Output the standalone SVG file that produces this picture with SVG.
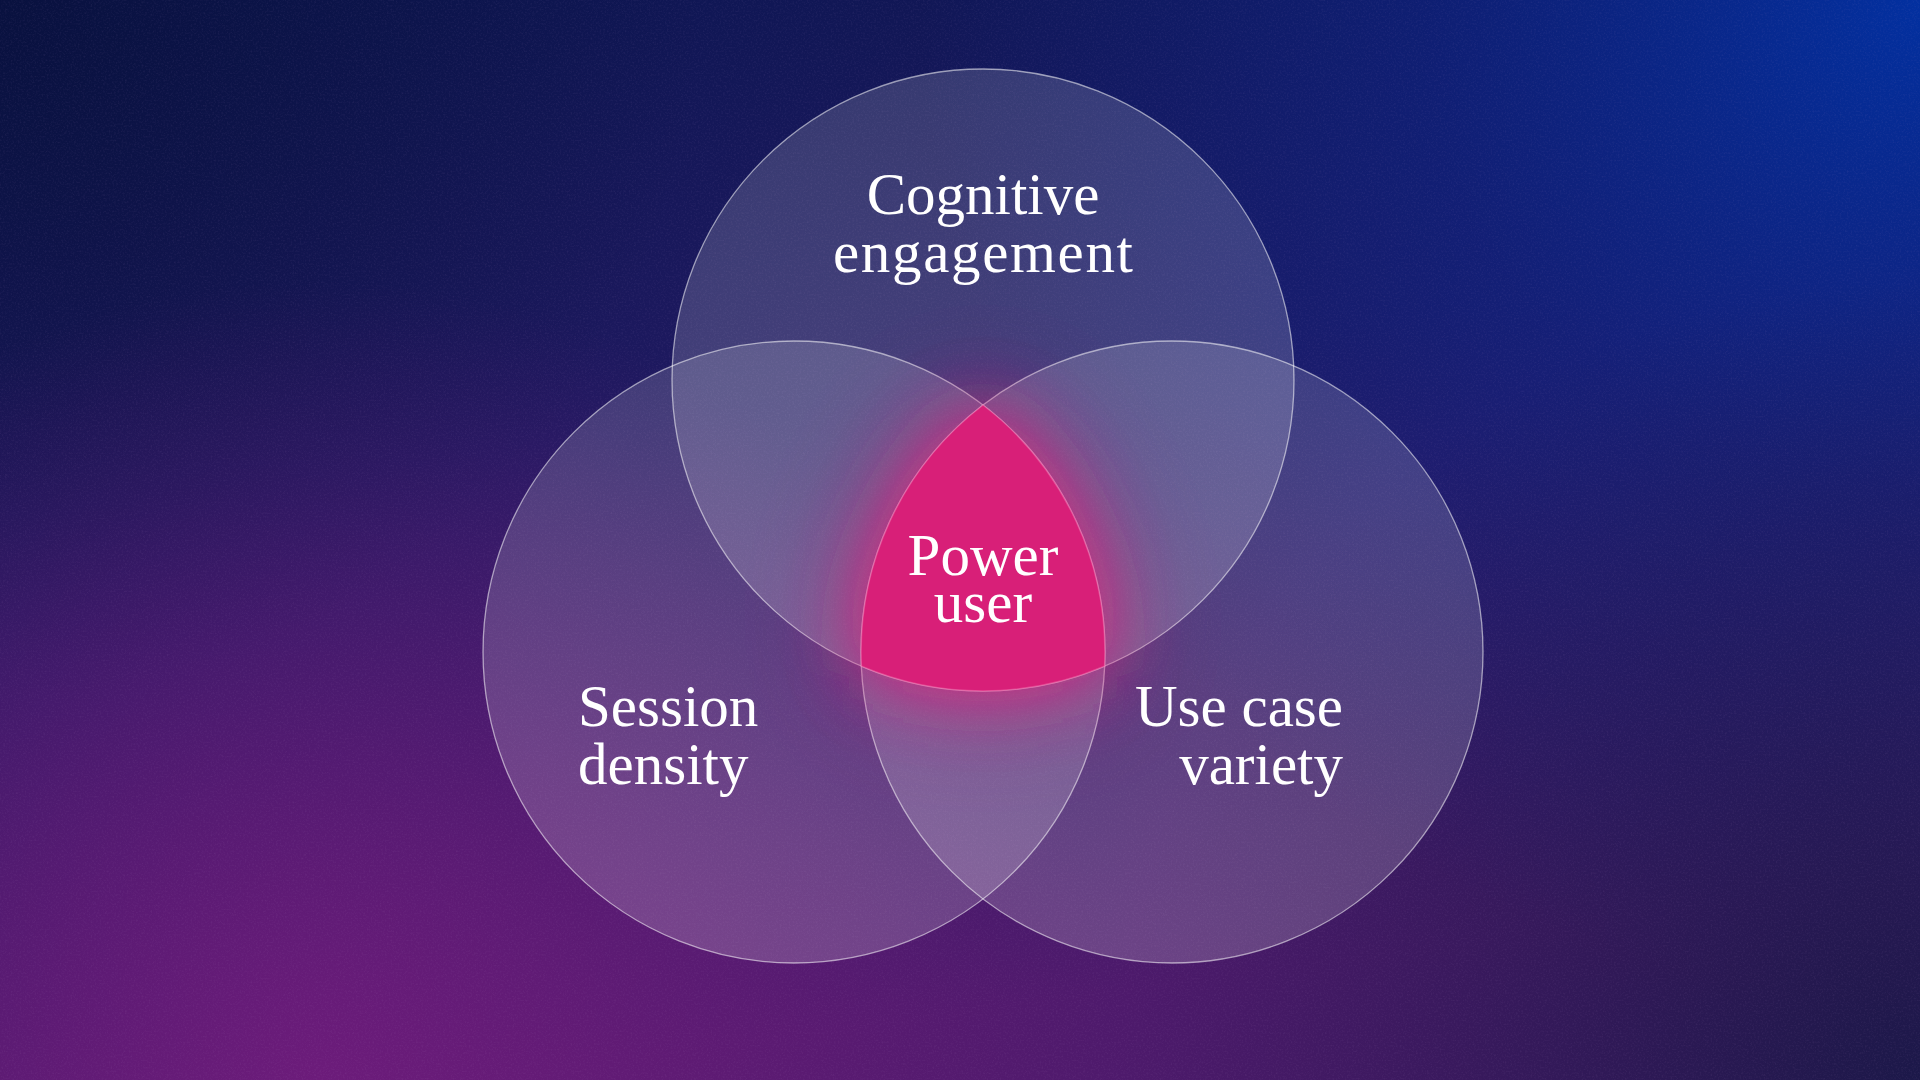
<svg xmlns="http://www.w3.org/2000/svg" width="1920" height="1080" viewBox="0 0 1920 1080">
<defs>
<linearGradient id="bgBase" x1="0" y1="0" x2="0.25" y2="1">
<stop offset="0" stop-color="#0c1652"/>
<stop offset="0.45" stop-color="#1f1960"/>
<stop offset="1" stop-color="#4e1a6c"/>
</linearGradient>
<radialGradient id="glowTR" cx="1920" cy="0" r="1000" gradientUnits="userSpaceOnUse">
<stop offset="0" stop-color="#0230a0" stop-opacity="1"/>
<stop offset="0.5" stop-color="#0a2488" stop-opacity="0.55"/>
<stop offset="1" stop-color="#0a2488" stop-opacity="0"/>
</radialGradient>
<radialGradient id="glowBL" cx="320" cy="1080" r="800" gradientUnits="userSpaceOnUse">
<stop offset="0" stop-color="#741c7e" stop-opacity="0.8"/>
<stop offset="1" stop-color="#741c7e" stop-opacity="0"/>
</radialGradient>
<radialGradient id="darkBR" cx="1920" cy="1080" r="800" gradientUnits="userSpaceOnUse">
<stop offset="0" stop-color="#161845" stop-opacity="0.9"/>
<stop offset="1" stop-color="#161845" stop-opacity="0"/>
</radialGradient>
<radialGradient id="darkTL" cx="0" cy="0" r="700" gradientUnits="userSpaceOnUse">
<stop offset="0" stop-color="#08103a" stop-opacity="0.8"/>
<stop offset="1" stop-color="#08103a" stop-opacity="0"/>
</radialGradient>
<linearGradient id="circleFill" x1="0" y1="0" x2="0" y2="1">
<stop offset="0" stop-color="#ffffff" stop-opacity="0.15"/>
<stop offset="1" stop-color="#ffffff" stop-opacity="0.18"/>
</linearGradient>
<filter id="noise" x="0" y="0" width="100%" height="100%">
<feTurbulence type="fractalNoise" baseFrequency="0.55" numOctaves="2" seed="3"/>
<feColorMatrix type="matrix" values="0 0 0 0 0.5  0 0 0 0 0.3  0 0 0 0 0.6  0 0 0 -1.4 0.75"/>
</filter>
<filter id="blurGlow" x="-60%" y="-60%" width="220%" height="220%">
<feGaussianBlur stdDeviation="38"/>
</filter>
<filter id="blurWide" x="-80%" y="-80%" width="260%" height="260%">
<feGaussianBlur stdDeviation="60"/>
</filter>
<path id="lensShape" d="M983,405 A311,311 0 0 0 861.4,666.2 A311,311 0 0 0 1104.6,666.2 A311,311 0 0 0 983,405 Z"/>
<style>
.circ{fill:url(#circleFill);stroke:#ffffff;stroke-opacity:0.55;stroke-width:1.3}
.lbl{font-family:"Liberation Serif","DejaVu Serif",serif;font-size:59px;fill:#ffffff}
.mid{text-anchor:middle}
.end{text-anchor:end}
</style>
</defs>
<g id="background">
<rect width="1920" height="1080" fill="url(#bgBase)"/>
<rect width="1920" height="1080" fill="url(#darkTL)"/>
<rect width="1920" height="1080" fill="url(#glowTR)"/>
<rect width="1920" height="1080" fill="url(#glowBL)"/>
<rect width="1920" height="1080" fill="url(#darkBR)"/>
<rect width="1920" height="1080" filter="url(#noise)" opacity="0.14"/>
</g>
<g id="node-cognitive">
<circle class="circ" cx="983" cy="380" r="311"/>
</g>
<g id="node-session">
<circle class="circ" cx="794" cy="652" r="311"/>
</g>
<g id="node-usecase">
<circle class="circ" cx="1172" cy="652" r="311"/>
</g>
<g id="node-power">
<use href="#lensShape" fill="#e0207e" opacity="0.45" filter="url(#blurWide)"/>
<use href="#lensShape" fill="#e0207e" opacity="0.9" filter="url(#blurGlow)"/>
<use href="#lensShape" fill="#d81f78" stroke="#ff9ccc" stroke-opacity="0.35" stroke-width="1.5"/>
</g>
<g id="connectors"/>
<g id="labels">
<text class="lbl mid" x="983" y="214">Cognitive<tspan x="983" dy="58" textLength="300" lengthAdjust="spacing">engagement</tspan></text>
<text class="lbl mid" x="983" y="575">Power<tspan x="983" dy="47">user</tspan></text>
<text class="lbl" x="578" y="726">Session<tspan x="578" dy="58">density</tspan></text>
<text class="lbl end" x="1343" y="726">Use case<tspan x="1343" dy="58">variety</tspan></text>
</g>
</svg>
